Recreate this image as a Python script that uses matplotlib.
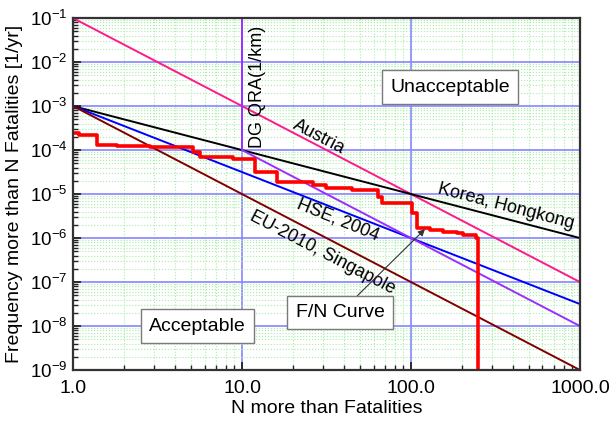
import numpy as np
import matplotlib
matplotlib.use("Agg")
import matplotlib.pyplot as plt
from matplotlib.ticker import LogLocator, FixedLocator, FixedFormatter, NullFormatter

plt.rcParams["font.family"] = ["Liberation Sans", "DejaVu Sans"]
plt.rcParams["mathtext.fontset"] = "custom"
plt.rcParams["mathtext.rm"] = "Liberation Sans"
plt.rcParams["mathtext.it"] = "Liberation Sans:italic"
plt.rcParams["mathtext.bf"] = "Liberation Sans:bold"

# ---------------------------------------------------------------------------
# Data
# ---------------------------------------------------------------------------
# F/N curve (step function)
fn_n = [1.0, 1.085, 1.39, 1.81, 2.85, 5.13, 5.64, 8.86, 11.96, 16.06, 26.3,
        31.6, 45.0, 63.5, 67.4, 102.0, 109.0, 129.0, 154.0, 186.0, 203.0,
        243.0, 250.0]
fn_f = [2.46e-4, 2.2e-4, 1.3e-4, 1.25e-4, 1.17e-4, 8.9e-5, 6.8e-5, 6.3e-5,
        3.2e-5, 1.85e-5, 1.6e-5, 1.4e-5, 1.23e-5, 8.7e-6, 6.3e-6, 3.7e-6,
        1.66e-6, 1.5e-6, 1.4e-6, 1.3e-6, 1.15e-6, 1.0e-6, 1e-10]

# criterion lines: N end points and F end points
austria_n = [1.0, 1000.0]
austria_f = [1e-1, 1e-7]
korea_n = [1.0, 1000.0]
korea_f = [1e-3, 1e-6]
hse_n = [1.0, 1000.0]
hse_f = [1e-3, 10 ** -7.5]
dg_n = [10.0, 10.0, 1000.0]
dg_f = [1e-1, 1e-4, 1e-8]
eu_n = [1.0, 1000.0]
eu_f = [1e-3, 1e-9]

x_ticks = [1, 10, 100, 1000]
x_labels = ["1.0", "10.0", "100.0", "1000.0"]
y_ticks = [10.0 ** -k for k in range(1, 10)]
y_labels = [r"$10^{-%d}$" % k for k in range(1, 10)]

# ---------------------------------------------------------------------------
fig = plt.figure(figsize=(6.14, 4.21), dpi=100)
ax = fig.add_axes([0.119, 0.121, 0.8256, 0.836])

ax.set_xscale("log")
ax.set_yscale("log")
ax.set_xlim(1, 1000)
ax.set_ylim(1e-9, 1e-1)

# grid
ax.xaxis.set_minor_locator(LogLocator(base=10, subs=np.arange(2, 10)))
ax.yaxis.set_minor_locator(LogLocator(base=10, subs=np.arange(2, 10), numticks=20))
ax.xaxis.set_minor_formatter(NullFormatter())
ax.yaxis.set_minor_formatter(NullFormatter())
ax.grid(which="minor", color="#a8eca8", linestyle=":", linewidth=0.8)
ax.grid(which="major", color="#8585ff", linestyle="-", linewidth=1.2)
ax.set_axisbelow(True)

# lines
ax.plot(austria_n, austria_f, color="#ff1a8c", lw=1.4)
ax.plot(korea_n, korea_f, color="black", lw=1.4)
ax.plot(hse_n, hse_f, color="#0000ff", lw=1.4)
ax.plot(dg_n, dg_f, color="#9a30ff", lw=1.4)
ax.plot(eu_n, eu_f, color="#800000", lw=1.4)
ax.plot(fn_n, fn_f, color="#ff0000", lw=2.6, drawstyle="steps-post")

# ticks
ax.xaxis.set_major_locator(FixedLocator(x_ticks))
ax.xaxis.set_major_formatter(FixedFormatter(x_labels))
ax.yaxis.set_major_locator(FixedLocator(y_ticks))
ax.yaxis.set_major_formatter(FixedFormatter(y_labels))
ax.tick_params(which="both", direction="in", top=False, right=False,
               colors="#222222", labelcolor="black")
ax.tick_params(which="major", length=6, width=1.3)
ax.tick_params(axis="x", which="major", pad=7, labelsize=14)
ax.tick_params(axis="y", which="major", pad=4, labelsize=13.5)
ax.tick_params(which="minor", length=3.5, width=1.0)
for sp in ax.spines.values():
    sp.set_linewidth(1.6)
    sp.set_color("#333333")

ax.set_xlabel("N more than Fatalities", fontsize=14, labelpad=2)
ax.set_ylabel("Frequency more than N Fatalities [1/yr]", fontsize=14, labelpad=5)

# line labels
ax.text(28.6, 2.0e-4, "Austria", fontsize=13, rotation=-27.5,
        ha="center", va="center", rotation_mode="anchor")
ax.text(365, 5.1e-6, "Korea, Hongkong", fontsize=13, rotation=-14.6,
        ha="center", va="center", rotation_mode="anchor")
ax.text(37, 2.6e-6, "HSE, 2004", fontsize=13, rotation=-22,
        ha="center", va="center", rotation_mode="anchor")
ax.text(30.0, 4.6e-7, "EU-2010, Singapole", fontsize=13, rotation=-27.5,
        ha="center", va="center", rotation_mode="anchor")
ax.text(12.3, 2.7e-3, "DG QRA(1/km)", fontsize=13, rotation=90,
        ha="center", va="center", rotation_mode="anchor")

box = dict(boxstyle="square,pad=0.42", facecolor="white", edgecolor="#7a7a7a", lw=1.0)
ax.text(170, 2.7e-3, "Unacceptable", fontsize=14, ha="center", va="center", bbox=box)
ax.text(5.42, 1.0e-8, "Acceptable", fontsize=14, ha="center", va="center", bbox=box)
ax.annotate("F/N Curve", xy=(121, 1.6e-6), xytext=(38, 2.0e-8), fontsize=14,
            ha="center", va="center", bbox=box,
            arrowprops=dict(arrowstyle="-|>", color="#333333", lw=0.8,
                            mutation_scale=10, shrinkA=0, shrinkB=0))

fig.savefig("out.png", dpi=100)
